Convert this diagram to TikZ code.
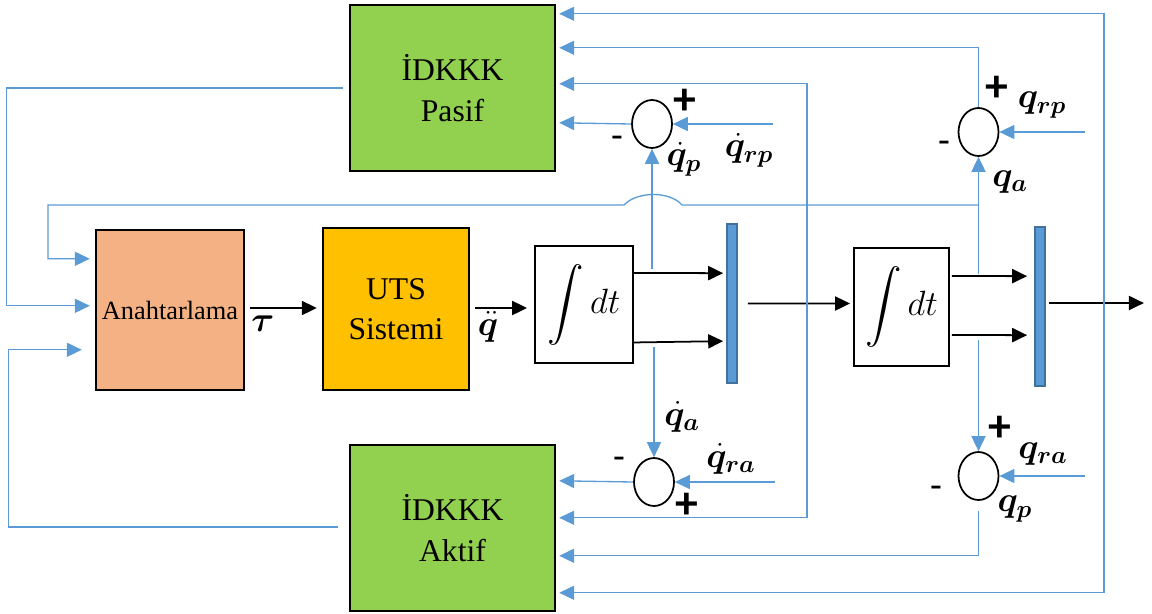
\RequirePackage{fix-cm}
\documentclass[tikz,border=0pt]{standalone}
\usepackage{amsmath,bm}
\usepackage{fontspec}
\setmainfont{Liberation Serif}
\newfontfamily\signfont{Carlito}
\usetikzlibrary{arrows.meta,shapes.geometric,calc}
\definecolor{lblue}{HTML}{5B9BD5}
\definecolor{muxb}{HTML}{41719C}
\definecolor{pgreen}{HTML}{92D050}
\definecolor{porange}{HTML}{F4B183}
\definecolor{pgold}{HTML}{FFC000}
\begin{document}
\begin{tikzpicture}[x=0.02cm,y=-0.02cm,
  blk/.style={draw=black,line width=1pt,-{Triangle[length=8.5pt,width=8pt]}},
  barrow/.style={draw=lblue,line width=0.75pt,-{Triangle[length=8.5pt,width=8pt]}},
  box/.style={draw=black,line width=1.4pt,inner sep=0pt,align=center,font=\fontsize{18}{23}\selectfont},
  ibox/.style={draw=black,line width=1.1pt,fill=white,inner sep=0pt,font=\fontsize{20}{22}\selectfont},
  sumj/.style={draw=black,ellipse,line width=1pt,minimum width=0.8cm,minimum height=0.96cm,inner sep=0pt},
  mux/.style={draw=muxb,fill=lblue,line width=1pt,minimum width=0.2cm,minimum height=3.18cm,inner sep=0pt},
  lab/.style={inner sep=0pt,font=\fontsize{20}{22}\selectfont},
  sgn/.style={inner sep=0pt,font=\signfont\bfseries\fontsize{26}{26}\selectfont},
  sgnm/.style={inner sep=0pt,font=\signfont\fontsize{22}{22}\selectfont},
]
\useasboundingbox (0,0) rectangle (1152,613);

% blocks
\node[box,fill=pgreen,minimum width=4.1cm,minimum height=3.32cm] (pasif) at (452.5,88) {İDKKK\\Pasif};
\node[box,fill=pgreen,minimum width=4.1cm,minimum height=3.32cm] (aktif) at (452.5,528) {İDKKK\\Aktif};
\node[box,fill=porange,minimum width=2.96cm,minimum height=3.2cm,font=\fontsize{15}{18}\selectfont] (anaht) at (170,310) {Anahtarlama};
\node[box,fill=pgold,minimum width=2.92cm,minimum height=3.24cm] (uts) at (396,309) {UTS\\Sistemi};
\node[ibox,minimum width=1.96cm,minimum height=2.34cm] (int1) at (584,304.5) {$\displaystyle\int dt$};
\node[ibox,minimum width=1.9cm,minimum height=2.36cm] (int2) at (901.5,307) {$\displaystyle\int dt$};
\node[mux] (mux1) at (732,303.5) {};
\node[mux] (mux2) at (1040,306.5) {};

% summing junctions
\node[sumj] (c1) at (652,124) {};
\node[sumj] (c2) at (978.5,132) {};
\node[sumj] (c3) at (654,482) {};
\node[sumj] (c4) at (978.5,476) {};

% free ends
\coordinate (tapV) at (807,303.5);
\coordinate (tapO) at (1104,303);
\coordinate (in1) at (773,124);
\coordinate (in2) at (1085,132);
\coordinate (in3) at (775,482);
\coordinate (in4) at (1085,476);
\coordinate (q1) at (652,269);
\coordinate (q2) at (978.5,274);
\coordinate (q3) at (654,347);
\coordinate (q4) at (978.5,340);
\coordinate (qa) at (978.5,205);

% black signal path
\draw[blk] ($(anaht.east)+(5,-2)$) -- ($(uts.west)+(-5,-1)$);
\draw[blk] ($(uts.east)+(5,-1)$) -- ($(int1.west)+(-7,3.5)$);
\draw[blk] ($(int1.north east)+(0,28)$) -- ($(mux1.north west)+(-3,50)$);
\draw[blk] ($(int1.south east)+(0,-21.5)$) -- ($(mux1.north west)+(-3,118)$);
\draw[blk] ($(mux1.east)+(10,0)$) -- ($(int2.west)+(-3,-3.5)$);
\draw[blk] ($(int2.north east)+(2,29)$) -- ($(mux2.north west)+(-7,50)$);
\draw[blk] ($(int2.north east)+(2,88)$) -- ($(mux2.north west)+(-7,109)$);
\draw[blk] ($(mux2.east)+(3,-3.5)$) -- ++(95,0);

% blue feedback paths
\draw[barrow] (tapO) |- ($(pasif.north east)+(3,10)$);
\draw[barrow] (tapO) |- ($(aktif.north east)+(3,149)$);
\draw[barrow] (c2.north) |- ($(pasif.north east)+(3,44)$);
\draw[barrow] (tapV) |- ($(pasif.north east)+(3,80)$);
\draw[barrow] (tapV) |- ($(aktif.north east)+(3,74)$);
\draw[barrow] (c1.west) -- ($(pasif.north east)+(3,119)$);
\draw[barrow] (c3.west) -- ($(aktif.north east)+(3,37)$);
\draw[barrow] ($(c4.south)+(0,10)$) |- ($(aktif.north east)+(3,112)$);
\draw[barrow] (in1) -- (c1.east);
\draw[barrow] (in2) -- (c2.east);
\draw[barrow] (in3) -- (c3.east);
\draw[barrow] (in4) -- (c4.east);
\draw[barrow] (q1) -- (c1.south);
\draw[barrow] (q2) -- (c2.south);
\draw[barrow] (q3) -- (c3.north);
\draw[barrow] (q4) -- (c4.north);
\draw[barrow] (qa) -- (682,205) .. controls (670,191) and (637,191) .. (624,205) -- (48,205) |- ($(anaht.north west)+(-5,30)$);
\draw[barrow] ($(pasif.west)+(-6,0)$) -- ++(-336,0) |- ($(anaht.north west)+(-5,77)$);
\draw[barrow] ($(aktif.west)+(-11,-1)$) -- ++(-329,0) |- ($(anaht.north west)+(-13,121)$);

% labels
\node[lab] (ltau) at (263,324) {$\bm{\tau}$};
\node[lab] (lqdd) at (488,327) {$\bm{\ddot q}$};
\node[lab] (lqp) at (684,159) {$\bm{\dot q_p}$};
\node[lab] (lqrp) at (749,150) {$\bm{\dot q_{rp}}$};
\node[lab] (lqa) at (682,417) {$\bm{\dot q_a}$};
\node[lab] (lqra) at (731,459) {$\bm{\dot q_{ra}}$};
\node[lab] (lqrp2) at (1042,105) {$\bm{q_{rp}}$};
\node[lab] (lqa2) at (1010,182) {$\bm{q_a}$};
\node[lab] (lqra2) at (1043,454) {$\bm{q_{ra}}$};
\node[lab] (lqp2) at (1015,509) {$\bm{q_p}$};
\node[sgn] (p1) at (684.5,102) {+};
\node[sgnm] (m1) at (617,142) {-};
\node[sgn] (p2) at (996.5,89) {+};
\node[sgnm] (m2) at (944,147) {-};
\node[sgnm] (m3) at (619,463) {-};
\node[sgn] (p3) at (687,506) {+};
\node[sgn] (p4) at (1000,429) {+};
\node[sgnm] (m4) at (936,492) {-};
\end{tikzpicture}
\end{document}
